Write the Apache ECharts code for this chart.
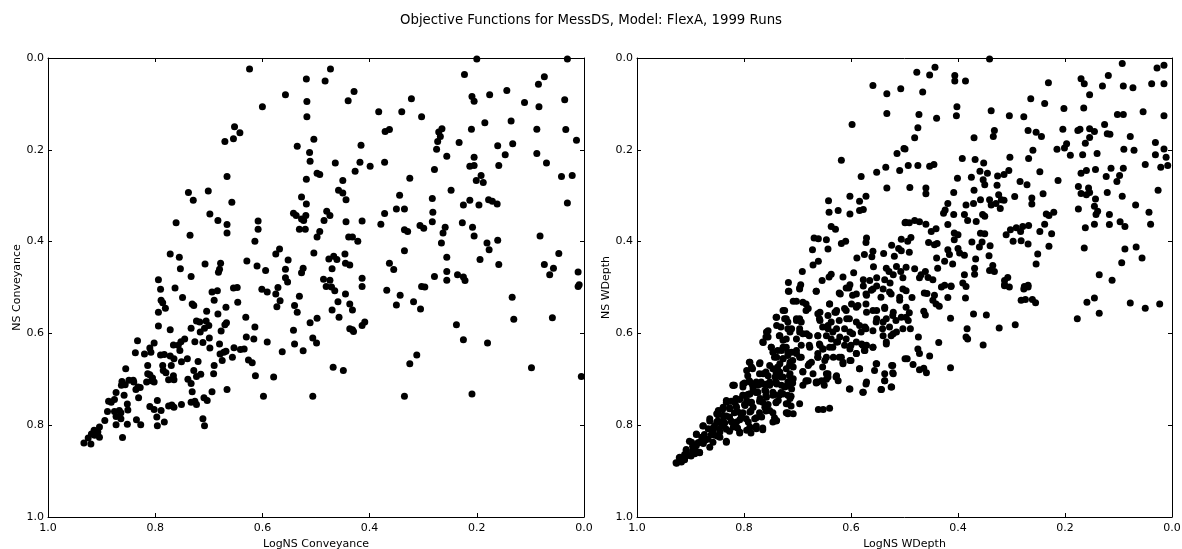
<!DOCTYPE html>
<html>
<head>
<meta charset="utf-8">
<script src="https://cdn.jsdelivr.net/npm/echarts@6/dist/echarts.min.js"></script>
<style>
html,body{margin:0;padding:0;background:#fff;}
#chart{width:1182px;height:549px;}
</style>
</head>
<body>
<div id="chart"></div>
<script>
const chartTitle = "Objective Functions for MessDS, Model: FlexA, 1999 Runs";
const leftXName = "LogNS Conveyance";
const leftYName = "NS Conveyance";
const rightXName = "LogNS WDepth";
const rightYName = "NS WDepth";
const tickValues = [0.0, 0.2, 0.4, 0.6, 0.8, 1.0];

// [LogNS Conveyance, NS Conveyance]
const conveyancePoints = [
[0.624,0.024],[0.518,0.046],[0.557,0.080],[0.517,0.095],[0.600,0.106],[0.517,0.128],[0.652,0.150],[0.642,0.163],[0.670,0.182],[0.654,0.176],[0.504,0.177],[0.535,0.192],[0.512,0.206],[0.511,0.225],[0.498,0.251],[0.666,0.258],[0.518,0.264],[0.738,0.293],[0.701,0.290],[0.729,0.310],[0.657,0.314],[0.527,0.303],[0.518,0.318],[0.698,0.340],[0.683,0.354],[0.542,0.338],[0.537,0.343],[0.527,0.351],[0.519,0.343],[0.523,0.354],[0.666,0.363],[0.666,0.381],[0.608,0.355],[0.608,0.373],[0.531,0.373],[0.520,0.373],[0.761,0.359],[0.735,0.386],[0.498,0.390],[0.614,0.399],[0.772,0.427],[0.755,0.434],[0.568,0.416],[0.575,0.427],[0.504,0.425],[0.753,0.459],[0.707,0.449],[0.678,0.447],[0.680,0.460],[0.682,0.467],[0.629,0.442],[0.610,0.453],[0.594,0.463],[0.552,0.440],[0.557,0.460],[0.524,0.458],[0.527,0.468],[0.794,0.483],[0.733,0.476],[0.557,0.479],[0.553,0.488],
[0.200,0.002],[0.031,0.002],[0.473,0.024],[0.483,0.050],[0.223,0.036],[0.429,0.073],[0.440,0.093],[0.322,0.089],[0.383,0.117],[0.340,0.117],[0.303,0.128],[0.209,0.084],[0.205,0.094],[0.176,0.080],[0.144,0.071],[0.111,0.097],[0.085,0.057],[0.074,0.041],[0.084,0.106],[0.036,0.091],[0.371,0.160],[0.363,0.156],[0.271,0.161],[0.265,0.154],[0.268,0.171],[0.273,0.182],[0.275,0.199],[0.256,0.214],[0.233,0.184],[0.210,0.155],[0.185,0.141],[0.136,0.137],[0.088,0.155],[0.034,0.156],[0.014,0.179],[0.161,0.191],[0.133,0.187],[0.147,0.211],[0.205,0.216],[0.213,0.236],[0.205,0.234],[0.159,0.234],[0.088,0.208],[0.070,0.229],[0.042,0.258],[0.022,0.256],[0.031,0.316],[0.416,0.190],[0.464,0.229],[0.418,0.227],[0.399,0.236],[0.372,0.227],[0.427,0.247],[0.493,0.254],[0.450,0.267],[0.325,0.262],[0.279,0.243],[0.192,0.256],[0.201,0.267],[0.188,0.271],[0.458,0.288],[0.450,0.294],[0.444,0.309],[0.248,0.288],[0.344,0.299],[0.283,0.306],[0.225,0.320],[0.213,0.310],[0.196,0.320],[0.178,0.309],[0.171,0.312],[0.162,0.318],[0.480,0.334],[0.474,0.343],[0.485,0.354],[0.444,0.357],[0.414,0.355],[0.379,0.362],[0.372,0.339],[0.350,0.329],[0.335,0.329],[0.282,0.336],[0.283,0.357],[0.259,0.369],[0.263,0.381],[0.227,0.359],[0.208,0.369],[0.205,0.388],[0.306,0.365],[0.299,0.371],[0.335,0.374],[0.329,0.378],[0.493,0.378],[0.439,0.390],[0.432,0.390],[0.422,0.399],[0.266,0.403],[0.181,0.403],[0.161,0.397],[0.177,0.418],[0.082,0.388],[0.446,0.427],[0.476,0.438],[0.467,0.432],[0.461,0.439],[0.445,0.447],[0.437,0.451],[0.470,0.459],[0.335,0.420],[0.256,0.434],[0.363,0.447],[0.355,0.461],[0.194,0.439],[0.159,0.450],[0.047,0.426],[0.074,0.450],[0.057,0.458],[0.064,0.472],[0.011,0.466],[0.009,0.494],[0.486,0.482],[0.474,0.484],[0.414,0.480],[0.279,0.476],[0.256,0.465],[0.256,0.484],[0.236,0.472],[0.225,0.477],[0.222,0.485],
[0.790,0.504],[0.763,0.501],[0.749,0.522],[0.789,0.528],[0.786,0.533],[0.781,0.545],[0.794,0.554],[0.794,0.584],[0.772,0.592],[0.731,0.536],[0.728,0.539],[0.694,0.510],[0.684,0.507],[0.690,0.528],[0.654,0.501],[0.647,0.500],[0.646,0.532],[0.668,0.543],[0.683,0.558],[0.704,0.552],[0.601,0.504],[0.591,0.510],[0.575,0.514],[0.571,0.500],[0.567,0.529],[0.573,0.542],[0.531,0.519],[0.540,0.539],[0.535,0.554],[0.511,0.577],[0.498,0.567],[0.542,0.593],[0.506,0.610],[0.499,0.621],[0.540,0.623],[0.524,0.638],[0.591,0.619],[0.563,0.640],[0.631,0.565],[0.614,0.586],[0.616,0.612],[0.630,0.608],[0.667,0.577],[0.670,0.581],[0.677,0.595],[0.723,0.573],[0.717,0.575],[0.705,0.573],[0.700,0.583],[0.708,0.589],[0.716,0.597],[0.733,0.589],[0.699,0.610],[0.698,0.632],[0.726,0.618],[0.711,0.620],[0.680,0.623],[0.679,0.645],[0.672,0.641],[0.668,0.639],[0.675,0.659],[0.656,0.652],[0.653,0.631],[0.641,0.635],[0.634,0.634],[0.626,0.658],[0.619,0.664],[0.613,0.692],[0.579,0.695],[0.666,0.722],[0.598,0.737],[0.506,0.737],[0.690,0.670],[0.691,0.688],[0.720,0.661],[0.728,0.681],[0.715,0.689],[0.723,0.694],[0.739,0.700],[0.733,0.709],[0.731,0.727],[0.726,0.748],[0.733,0.750],[0.723,0.755],[0.709,0.740],[0.703,0.746],[0.694,0.727],[0.751,0.755],[0.769,0.756],[0.765,0.761],[0.775,0.758],[0.783,0.793],[0.796,0.746],[0.797,0.782],[0.796,0.801],[0.810,0.759],[0.802,0.766],[0.789,0.768],[0.711,0.786],[0.708,0.801],[0.751,0.662],[0.740,0.655],[0.770,0.670],[0.765,0.655],[0.772,0.649],[0.783,0.646],[0.790,0.647],[0.786,0.670],[0.785,0.681],[0.780,0.686],[0.775,0.701],[0.765,0.701],[0.766,0.692],[0.752,0.618],[0.745,0.612],[0.757,0.626],[0.766,0.625],[0.754,0.637],[0.802,0.621],[0.810,0.632],[0.808,0.641],[0.820,0.645],[0.837,0.642],[0.833,0.616],[0.814,0.670],[0.814,0.688],[0.805,0.697],[0.802,0.706],[0.807,0.703],[0.816,0.706],[0.810,0.690],[0.832,0.717],[0.831,0.740],[0.836,0.722],[0.828,0.718],[0.840,0.706],[0.849,0.702],[0.841,0.702],[0.855,0.677],[0.862,0.705],[0.856,0.712],[0.863,0.713],[0.858,0.735],[0.873,0.729],[0.882,0.750],[0.887,0.748],[0.876,0.744],[0.852,0.754],[0.851,0.767],[0.867,0.768],[0.876,0.770],[0.864,0.773],[0.889,0.770],[0.873,0.781],[0.864,0.786],[0.873,0.799],[0.852,0.798],[0.835,0.788],[0.827,0.799],[0.861,0.827],[0.894,0.790],[0.904,0.804],[0.914,0.811],[0.907,0.815],[0.919,0.819],[0.904,0.826],[0.925,0.828],[0.920,0.841],[0.933,0.839],[0.913,0.822],
[0.481,0.498],[0.471,0.499],[0.465,0.507],[0.445,0.514],[0.414,0.498],[0.368,0.506],[0.343,0.517],[0.350,0.538],[0.318,0.531],[0.305,0.547],[0.303,0.498],[0.297,0.499],[0.011,0.498],[0.459,0.531],[0.437,0.536],[0.432,0.549],[0.470,0.549],[0.457,0.565],[0.437,0.590],[0.430,0.596],[0.432,0.592],[0.414,0.583],[0.409,0.575],[0.468,0.674],[0.449,0.681],[0.325,0.666],[0.312,0.647],[0.335,0.737],[0.238,0.581],[0.225,0.614],[0.180,0.621],[0.209,0.732],[0.134,0.521],[0.131,0.569],[0.059,0.566],[0.098,0.675],[0.005,0.694]
];

// [LogNS WDepth, NS WDepth]
const wdepthPoints = [
[0.559,0.060],[0.533,0.078],[0.507,0.067],[0.533,0.121],[0.598,0.145],[0.501,0.197],[0.514,0.208],[0.509,0.245],[0.535,0.238],[0.552,0.249],[0.581,0.258],[0.533,0.283],[0.618,0.223],[0.602,0.301],[0.584,0.312],[0.572,0.301],[0.642,0.311],[0.641,0.336],[0.624,0.332],[0.602,0.340],[0.584,0.332],[0.577,0.330],[0.637,0.367],[0.629,0.373],[0.499,0.359],[0.669,0.392],[0.661,0.394],[0.646,0.396],[0.672,0.418],[0.643,0.416],[0.618,0.404],[0.610,0.399],[0.571,0.392],[0.572,0.402],[0.661,0.443],[0.671,0.451],[0.691,0.465],[0.654,0.485],[0.717,0.489],[0.694,0.494],[0.641,0.477],[0.637,0.471],[0.615,0.477],[0.595,0.468],[0.589,0.436],[0.575,0.428],[0.559,0.421],[0.561,0.433],[0.539,0.426],[0.519,0.432],[0.524,0.408],[0.506,0.395],[0.511,0.415],[0.506,0.420],[0.558,0.455],[0.534,0.458],[0.515,0.454],[0.529,0.465],[0.521,0.472],[0.507,0.465],[0.503,0.479],[0.577,0.483],[0.565,0.485],[0.552,0.479],[0.537,0.483],[0.527,0.490],[0.602,0.494],[0.577,0.497],[0.552,0.497],
[0.341,0.002],[0.093,0.012],[0.015,0.016],[0.028,0.022],[0.477,0.031],[0.453,0.037],[0.443,0.020],[0.406,0.038],[0.406,0.050],[0.386,0.050],[0.466,0.074],[0.231,0.054],[0.170,0.045],[0.164,0.056],[0.154,0.080],[0.130,0.061],[0.119,0.038],[0.091,0.061],[0.073,0.065],[0.038,0.056],[0.015,0.056],[0.264,0.089],[0.238,0.099],[0.202,0.110],[0.165,0.109],[0.473,0.123],[0.440,0.131],[0.402,0.106],[0.403,0.126],[0.338,0.115],[0.304,0.126],[0.277,0.128],[0.102,0.123],[0.091,0.123],[0.054,0.117],[0.015,0.126],[0.475,0.152],[0.481,0.174],[0.332,0.158],[0.334,0.171],[0.370,0.174],[0.269,0.158],[0.254,0.162],[0.244,0.171],[0.204,0.155],[0.176,0.158],[0.172,0.155],[0.154,0.154],[0.145,0.160],[0.154,0.173],[0.126,0.145],[0.121,0.165],[0.116,0.166],[0.078,0.171],[0.499,0.198],[0.260,0.201],[0.215,0.199],[0.201,0.196],[0.197,0.187],[0.190,0.212],[0.167,0.211],[0.162,0.186],[0.140,0.208],[0.090,0.199],[0.071,0.201],[0.031,0.184],[0.031,0.211],[0.015,0.198],[0.011,0.216],[0.008,0.234],[0.021,0.238],[0.050,0.232],[0.493,0.234],[0.475,0.234],[0.453,0.236],[0.445,0.232],[0.392,0.219],[0.368,0.221],[0.352,0.229],[0.359,0.247],[0.345,0.251],[0.303,0.216],[0.268,0.219],[0.326,0.257],[0.314,0.254],[0.305,0.245],[0.401,0.262],[0.375,0.260],[0.353,0.265],[0.350,0.276],[0.247,0.248],[0.284,0.269],[0.271,0.276],[0.213,0.267],[0.170,0.251],[0.160,0.245],[0.143,0.243],[0.123,0.258],[0.114,0.240],[0.098,0.256],[0.103,0.269],[0.091,0.240],[0.490,0.282],[0.460,0.283],[0.460,0.296],[0.408,0.293],[0.370,0.288],[0.327,0.277],[0.324,0.298],[0.294,0.302],[0.262,0.305],[0.262,0.318],[0.241,0.296],[0.175,0.280],[0.170,0.295],[0.156,0.283],[0.154,0.293],[0.160,0.298],[0.143,0.307],[0.121,0.293],[0.093,0.301],[0.026,0.288],[0.358,0.309],[0.341,0.309],[0.338,0.320],[0.329,0.317],[0.319,0.309],[0.321,0.328],[0.314,0.310],[0.419,0.317],[0.424,0.331],[0.427,0.338],[0.408,0.341],[0.385,0.320],[0.371,0.317],[0.388,0.341],[0.382,0.354],[0.366,0.356],[0.354,0.341],[0.350,0.345],[0.235,0.340],[0.230,0.343],[0.221,0.336],[0.238,0.362],[0.247,0.378],[0.225,0.383],[0.230,0.410],[0.175,0.329],[0.145,0.323],[0.139,0.334],[0.142,0.341],[0.117,0.341],[0.068,0.320],[0.043,0.336],[0.040,0.362],[0.145,0.362],[0.117,0.363],[0.097,0.357],[0.088,0.367],[0.162,0.370],[0.164,0.414],[0.088,0.416],[0.067,0.412],[0.056,0.436],[0.094,0.446],[0.136,0.472],[0.112,0.484],[0.498,0.358],[0.491,0.359],[0.481,0.354],[0.472,0.357],[0.460,0.362],[0.450,0.378],[0.441,0.372],[0.419,0.363],[0.407,0.381],[0.400,0.385],[0.407,0.396],[0.488,0.391],[0.494,0.399],[0.491,0.423],[0.455,0.402],[0.439,0.404],[0.444,0.407],[0.419,0.418],[0.416,0.428],[0.400,0.415],[0.397,0.425],[0.388,0.430],[0.374,0.401],[0.358,0.382],[0.350,0.383],[0.355,0.401],[0.340,0.409],[0.360,0.412],[0.367,0.438],[0.342,0.431],[0.335,0.452],[0.310,0.385],[0.302,0.374],[0.291,0.370],[0.283,0.378],[0.279,0.367],[0.268,0.365],[0.297,0.399],[0.282,0.398],[0.269,0.405],[0.251,0.427],[0.254,0.449],[0.440,0.436],[0.425,0.443],[0.410,0.449],[0.438,0.458],[0.481,0.459],[0.497,0.456],[0.469,0.472],[0.461,0.465],[0.456,0.478],[0.447,0.483],[0.472,0.479],[0.388,0.472],[0.369,0.458],[0.369,0.471],[0.341,0.463],[0.332,0.465],[0.307,0.478],[0.313,0.485],[0.391,0.490],[0.425,0.495],[0.413,0.497],[0.313,0.494],[0.276,0.498],[0.269,0.495],
[0.717,0.508],[0.696,0.503],[0.665,0.508],[0.620,0.514],[0.604,0.501],[0.590,0.514],[0.571,0.517],[0.562,0.506],[0.540,0.503],[0.528,0.510],[0.509,0.521],[0.503,0.503],
[0.708,0.530],[0.690,0.532],[0.680,0.546],[0.658,0.554],[0.640,0.536],[0.627,0.550],[0.612,0.546],[0.599,0.536],[0.587,0.539],[0.571,0.554],[0.552,0.550],[0.537,0.543],[0.521,0.554],[0.506,0.565],
[0.739,0.565],[0.727,0.550],[0.724,0.568],[0.702,0.568],[0.693,0.575],[0.658,0.572],[0.643,0.561],[0.630,0.554],[0.608,0.568],[0.590,0.575],[0.574,0.586],[0.552,0.568],[0.540,0.575],[0.528,0.586],[0.515,0.597],[0.503,0.590],
[0.758,0.597],[0.755,0.608],[0.733,0.605],[0.714,0.597],[0.711,0.590],[0.696,0.597],[0.683,0.601],[0.662,0.605],[0.643,0.583],[0.627,0.590],[0.621,0.608],[0.602,0.597],[0.580,0.623],[0.571,0.626],[0.559,0.630],[0.540,0.605],[0.534,0.623],[0.521,0.601],
[0.764,0.620],[0.749,0.630],[0.730,0.637],[0.721,0.630],[0.711,0.641],[0.702,0.644],[0.677,0.630],[0.658,0.626],[0.652,0.634],[0.640,0.630],[0.627,0.619],[0.612,0.626],[0.602,0.634],[0.590,0.644],[0.574,0.637],
[0.789,0.663],[0.770,0.664],[0.739,0.652],[0.727,0.655],[0.714,0.663],[0.708,0.673],[0.693,0.652],[0.680,0.670],[0.674,0.663],[0.662,0.652],[0.649,0.659],[0.633,0.652],[0.618,0.652],[0.615,0.666],[0.602,0.659],[0.584,0.677],[0.552,0.666],[0.537,0.688],[0.521,0.688],[0.524,0.670],[0.499,0.655],
[0.795,0.681],[0.786,0.673],[0.764,0.688],[0.746,0.677],[0.733,0.684],[0.727,0.695],[0.714,0.688],[0.708,0.699],[0.690,0.684],[0.680,0.703],[0.665,0.706],[0.655,0.703],[0.646,0.688],[0.643,0.695],[0.627,0.692],[0.624,0.703],[0.602,0.721],[0.571,0.706],[0.577,0.728],[0.543,0.722],[0.537,0.703],[0.524,0.717],
[0.820,0.713],[0.802,0.717],[0.789,0.706],[0.783,0.721],[0.767,0.710],[0.752,0.706],[0.739,0.710],[0.730,0.713],[0.718,0.706],[0.711,0.721],[0.727,0.732],[0.714,0.742],[0.690,0.713],
[0.833,0.746],[0.817,0.750],[0.802,0.735],[0.795,0.746],[0.789,0.732],[0.777,0.728],[0.770,0.742],[0.758,0.739],[0.746,0.735],[0.736,0.746],[0.721,0.753],[0.661,0.766],[0.652,0.766],[0.640,0.763],[0.718,0.775],[0.708,0.775],
[0.848,0.768],[0.839,0.761],[0.827,0.764],[0.814,0.761],[0.805,0.775],[0.789,0.771],[0.783,0.761],[0.761,0.761],[0.752,0.768],[0.767,0.782],[0.780,0.786],[0.792,0.793],[0.739,0.790],[0.746,0.793],
[0.864,0.786],[0.851,0.775],[0.839,0.790],[0.827,0.782],[0.814,0.793],[0.805,0.782],[0.808,0.815],[0.795,0.811],[0.789,0.804],[0.777,0.808],[0.765,0.810],
[0.876,0.801],[0.867,0.808],[0.855,0.801],[0.845,0.815],[0.833,0.809],[0.820,0.804],[0.833,0.837],[0.845,0.826],
[0.889,0.819],[0.879,0.826],[0.867,0.830],[0.855,0.822],[0.876,0.840],[0.889,0.844],[0.898,0.837],[0.864,0.848],
[0.908,0.855],[0.901,0.866],[0.892,0.862],[0.883,0.859],[0.911,0.873],[0.920,0.870],[0.926,0.883],[0.917,0.880],
[0.892,0.851],[0.873,0.833],[0.858,0.815],[0.842,0.801],[0.823,0.793],[0.811,0.771],[0.798,0.757],[0.786,0.750],[0.774,0.713],[0.761,0.724],[0.755,0.692],[0.742,0.695],[0.733,0.666],[0.721,0.677],[0.746,0.641],[0.727,0.615],[0.739,0.583],[0.718,0.575],[0.858,0.837],[0.839,0.779],[0.851,0.793],[0.883,0.837],
[0.497,0.507],[0.486,0.522],[0.463,0.512],[0.458,0.513],[0.444,0.517],[0.447,0.528],[0.441,0.536],[0.435,0.541],[0.431,0.499],[0.413,0.498],[0.419,0.522],[0.386,0.523],[0.385,0.498],[0.497,0.543],[0.491,0.555],[0.497,0.565],[0.493,0.572],[0.464,0.552],[0.461,0.560],[0.489,0.590],[0.474,0.608],[0.475,0.634],[0.472,0.644],[0.453,0.649],[0.495,0.655],[0.484,0.668],[0.472,0.679],[0.464,0.676],[0.459,0.686],[0.414,0.675],[0.436,0.620],[0.414,0.567],[0.383,0.590],[0.385,0.608],[0.382,0.612],[0.371,0.558],[0.347,0.560],[0.353,0.625],[0.323,0.588],[0.293,0.581],[0.313,0.496],[0.304,0.499],[0.277,0.503],[0.269,0.499],[0.282,0.528],[0.274,0.526],[0.261,0.526],[0.255,0.533],[0.177,0.568],[0.159,0.532],[0.145,0.523],[0.136,0.556],[0.078,0.534],[0.050,0.545],[0.023,0.536]
];

// extra points read from the dense part of the WDepth cloud
const wdepthDensePoints = [
[0.716,0.508],[0.696,0.501],[0.665,0.508],[0.622,0.512],[0.609,0.501],[0.597,0.517],[0.572,0.514],[0.559,0.503],[0.544,0.521],[0.525,0.514],[0.509,0.528],
[0.702,0.530],[0.684,0.536],[0.724,0.550],[0.684,0.550],[0.640,0.536],[0.628,0.554],[0.609,0.550],[0.590,0.543],[0.572,0.536],[0.559,0.550],[0.537,0.546],[0.522,0.561],
[0.740,0.565],[0.721,0.568],[0.702,0.572],[0.696,0.568],[0.662,0.557],[0.659,0.568],[0.637,0.575],[0.622,0.572],[0.603,0.568],[0.584,0.583],[0.572,0.590],[0.553,0.575],[0.534,0.568],[0.516,0.572],
[0.755,0.594],[0.731,0.586],[0.718,0.590],[0.696,0.590],[0.690,0.601],[0.653,0.586],[0.643,0.590],[0.634,0.597],[0.612,0.590],[0.597,0.601],[0.581,0.597],[0.559,0.594],[0.541,0.590],[0.525,0.605],[0.534,0.619],
[0.765,0.619],[0.759,0.608],[0.734,0.605],[0.721,0.612],[0.702,0.612],[0.678,0.605],[0.662,0.605],[0.646,0.605],[0.637,0.612],[0.609,0.612],[0.590,0.619],[0.578,0.626],
[0.749,0.630],[0.737,0.637],[0.727,0.630],[0.718,0.641],[0.702,0.637],[0.693,0.626],[0.678,0.626],[0.659,0.623],[0.653,0.634],[0.634,0.630],[0.625,0.619],[0.600,0.626],[0.590,0.644],[0.575,0.637],[0.559,0.630],
[0.743,0.652],[0.727,0.655],[0.718,0.648],[0.709,0.659],[0.696,0.652],[0.662,0.644],[0.662,0.652],[0.646,0.652],[0.622,0.652],[0.600,0.659],[0.615,0.663],
[0.790,0.663],[0.771,0.666],[0.784,0.677],[0.752,0.670],[0.737,0.673],[0.715,0.670],[0.678,0.666],[0.653,0.673],[0.584,0.677],[0.553,0.666],[0.522,0.670],
[0.793,0.692],[0.771,0.688],[0.759,0.684],[0.740,0.686],[0.731,0.695],[0.715,0.692],[0.690,0.683],[0.671,0.688],[0.643,0.688],[0.628,0.695],[0.556,0.681],[0.522,0.686],
[0.821,0.713],[0.802,0.710],[0.790,0.703],[0.784,0.713],[0.768,0.706],[0.752,0.713],[0.740,0.706],[0.724,0.717],[0.715,0.710],[0.684,0.703],[0.662,0.706],[0.646,0.700],[0.650,0.713],[0.603,0.721],[0.578,0.728],[0.572,0.710],[0.544,0.722],[0.525,0.717],[0.537,0.703],
[0.833,0.750],[0.815,0.742],[0.802,0.735],[0.790,0.732],[0.774,0.728],[0.759,0.735],[0.746,0.728],[0.734,0.735],[0.718,0.735],[0.790,0.750],[0.765,0.750],[0.740,0.750],[0.718,0.753],[0.696,0.753],
[0.818,0.713],[0.799,0.708],[0.777,0.706],[0.759,0.711],[0.740,0.708],[0.721,0.715],[0.709,0.708],[0.684,0.704],[0.665,0.708],
[0.824,0.748],[0.808,0.744],[0.793,0.733],[0.777,0.729],[0.759,0.726],[0.743,0.733],[0.731,0.729],[0.712,0.737],[0.712,0.758],[0.718,0.773],
[0.840,0.766],[0.827,0.762],[0.815,0.758],[0.799,0.755],[0.787,0.751],[0.771,0.748],[0.755,0.755],[0.740,0.751],
[0.849,0.777],[0.833,0.780],[0.818,0.773],[0.802,0.773],[0.787,0.769],[0.771,0.773],[0.759,0.769],[0.777,0.784],[0.746,0.773],
[0.864,0.791],[0.849,0.791],[0.836,0.795],[0.824,0.791],[0.808,0.788],[0.796,0.786],[0.777,0.802],[0.740,0.791],[0.743,0.784],[0.721,0.773],
[0.877,0.802],[0.858,0.806],[0.846,0.809],[0.827,0.813],[0.812,0.806],[0.808,0.817],[0.790,0.809],[0.787,0.817],[0.765,0.806],
[0.889,0.820],[0.874,0.820],[0.861,0.820],[0.849,0.824],[0.833,0.835],[0.871,0.831],
[0.902,0.835],[0.886,0.838],[0.877,0.838],[0.896,0.846],
[0.908,0.853],[0.896,0.857],[0.883,0.860],[0.911,0.864],[0.899,0.867],
[0.921,0.871],[0.911,0.875],[0.927,0.882],[0.917,0.878]
];

const FONT = "'DejaVu Sans', sans-serif";
const fmt = v => v.toFixed(1);

function mkX(gridIndex, name, pos) {
  const main = pos === 'bottom';
  return {
    type: 'value', gridIndex, position: pos, min: 0, max: 1, interval: 0.2, inverse: true,
    name: main ? name : '', nameLocation: 'middle', nameGap: 19,
    nameTextStyle: {fontFamily: FONT, fontSize: 11, color: '#000'},
    axisLine: {show: true, onZero: false, lineStyle: {color: '#000', width: 1}},
    axisTick: {show: true, inside: true, length: 4, lineStyle: {color: '#000'}},
    axisLabel: {show: main, fontFamily: FONT, fontSize: 11, color: '#000', margin: 6, formatter: fmt},
    splitLine: {show: false}
  };
}
function mkY(gridIndex, name, pos) {
  const main = pos === 'left';
  return {
    type: 'value', gridIndex, position: pos, min: 0, max: 1, interval: 0.2, inverse: true,
    name: main ? name : '', nameLocation: 'middle', nameGap: 25, nameRotate: 90,
    nameTextStyle: {fontFamily: FONT, fontSize: 11, color: '#000'},
    axisLine: {show: true, onZero: false, lineStyle: {color: '#000', width: 1}},
    axisTick: {show: true, inside: true, length: 4, lineStyle: {color: '#000'}},
    axisLabel: {show: main, fontFamily: FONT, fontSize: 11, color: '#000', margin: 4, formatter: fmt},
    splitLine: {show: false}
  };
}

const chart = echarts.init(document.getElementById('chart'), null, {renderer: 'canvas'});
chart.setOption({
  animation: false,
  backgroundColor: '#fff',
  title: {text: chartTitle, left: 'center', top: 9,
    textStyle: {fontFamily: FONT, fontSize: 13.3, fontWeight: 'normal', color: '#000'}},
  grid: [
    {left: 48, top: 58, width: 536, height: 459, containLabel: false, outerBoundsMode: 'none'},
    {left: 637, top: 58, width: 535, height: 459, containLabel: false, outerBoundsMode: 'none'}
  ],
  xAxis: [mkX(0, leftXName, 'bottom'), mkX(0, '', 'top'), mkX(1, rightXName, 'bottom'), mkX(1, '', 'top')],
  yAxis: [mkY(0, leftYName, 'left'), mkY(0, '', 'right'), mkY(1, rightYName, 'left'), mkY(1, '', 'right')],
  series: [
    {type: 'scatter', xAxisIndex: 0, yAxisIndex: 0, data: conveyancePoints, symbol: 'circle', symbolSize: 7,
     itemStyle: {color: '#000', opacity: 1}},
    {type: 'scatter', xAxisIndex: 2, yAxisIndex: 2, data: wdepthPoints.concat(wdepthDensePoints), symbol: 'circle', symbolSize: 7,
     itemStyle: {color: '#000', opacity: 1}}
  ]
});
</script>
</body>
</html>
